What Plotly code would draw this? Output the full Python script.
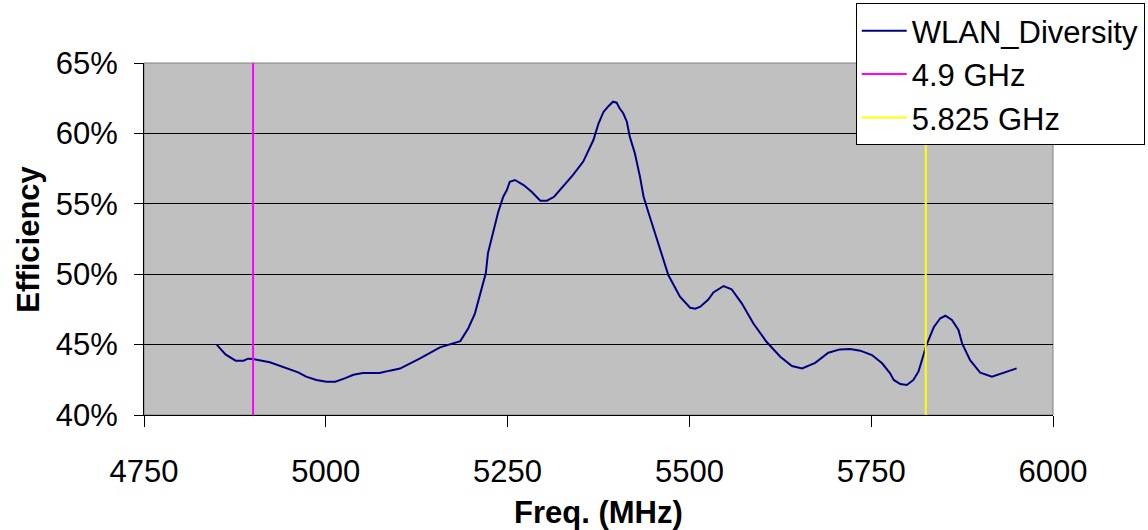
import plotly.graph_objects as go

# WLAN_Diversity efficiency (%)
freq = [4850, 4862, 4876, 4887, 4893, 4900, 4923, 4941, 4962, 4973, 4987, 5001, 5013,
        5026, 5038, 5051, 5074, 5088, 5102, 5129, 5157, 5185, 5196, 5205, 5214, 5220,
        5223, 5230, 5237, 5244, 5249, 5253, 5260, 5272, 5283, 5295, 5304, 5314, 5327,
        5340, 5354, 5368, 5375, 5382, 5389, 5395, 5400, 5404, 5409, 5414, 5418, 5425,
        5432, 5437, 5444, 5453, 5462, 5471, 5487, 5501, 5508, 5515, 5526, 5533, 5547,
        5558, 5572, 5588, 5606, 5625, 5641, 5655, 5673, 5691, 5707, 5721, 5735, 5751,
        5765, 5776, 5781, 5790, 5799, 5808, 5815, 5821, 5826, 5836, 5845, 5852, 5861,
        5870, 5875, 5886, 5900, 5916, 5932, 5950]
eff = [45.0, 44.3, 43.86, 43.86, 44.0, 43.98, 43.74, 43.39, 43.03, 42.72, 42.49, 42.37, 42.37,
       42.6, 42.86, 42.98, 42.98, 43.15, 43.3, 44.0, 44.8, 45.25, 46.16, 47.2, 48.9, 50.06,
       51.5, 53.0, 54.4, 55.5, 55.98, 56.57, 56.69, 56.33, 55.86, 55.22, 55.22, 55.5, 56.26,
       57.05, 58.0, 59.53, 60.7, 61.54, 61.95, 62.25, 62.18, 61.78, 61.43, 60.83, 59.77, 58.59,
       56.93, 55.5, 54.33, 52.9, 51.48, 49.94, 48.4, 47.62, 47.55, 47.69, 48.2, 48.7, 49.16,
       48.93, 47.93, 46.5, 45.2, 44.14, 43.48, 43.3, 43.7, 44.42, 44.66, 44.69, 44.57, 44.26,
       43.67, 42.96, 42.49, 42.2, 42.13, 42.49, 43.08, 44.14, 44.97, 46.23, 46.87, 47.05, 46.75,
       46.04, 45.09, 43.9, 43.0, 42.72, 43.0, 43.31]

# band markers
band_lo_x = [4900, 4900]
band_hi_x = [5825, 5825]
band_y = [40, 65]

x_ticks = [4750, 5000, 5250, 5500, 5750, 6000]
y_ticks = [40, 45, 50, 55, 60, 65]
y_labels = [f"{v}%" for v in y_ticks]

font_name = "Liberation Sans, Arial, sans-serif"

fig = go.Figure()
fig.add_trace(go.Scatter(x=freq, y=eff, mode="lines", name="WLAN_Diversity",
                         line=dict(color="#000080", width=2)))
fig.add_trace(go.Scatter(x=band_lo_x, y=band_y, mode="lines", name="4.9 GHz",
                         line=dict(color="#FF00FF", width=2)))
fig.add_trace(go.Scatter(x=band_hi_x, y=band_y, mode="lines", name="5.825 GHz",
                         line=dict(color="#FFFF00", width=2)))

# plot area frame (grey top/right edge)
fig.add_shape(type="rect", xref="paper", yref="paper", x0=0, x1=1, y0=0, y1=1,
              line=dict(color="#808080", width=1), layer="below")

# axis titles
fig.add_annotation(text="<b>Freq. (MHz)</b>", xref="paper", yref="paper",
                   x=0.5, y=-0.278, xanchor="center", yanchor="middle",
                   showarrow=False, font=dict(size=31))
fig.add_annotation(text="<b>Efficiency</b>", xref="paper", yref="paper",
                   x=-0.128, y=0.5, xanchor="center", yanchor="middle",
                   textangle=-90, showarrow=False, font=dict(size=31))

fig.update_layout(
    width=1148, height=530,
    margin=dict(l=144, r=95, t=63, b=115, autoexpand=False),
    paper_bgcolor="white", plot_bgcolor="#C0C0C0",
    font=dict(family=font_name, size=31, color="black"),
    showlegend=True,
    legend=dict(x=0.783, y=1.17, xanchor="left", yanchor="top",
                bgcolor="white", bordercolor="black", borderwidth=1,
                font=dict(size=31), tracegroupgap=0, itemwidth=45),
    xaxis=dict(range=[4750, 6000], tickvals=x_ticks, showgrid=False, zeroline=False,
               showline=True, linecolor="black", linewidth=1, automargin=False,
               ticks="outside", ticklen=11, tickcolor="black", ticklabelstandoff=18),
    yaxis=dict(range=[40, 65], tickvals=y_ticks, ticktext=y_labels, showgrid=True,
               gridcolor="black", gridwidth=1, zeroline=False,
               showline=True, linecolor="black", linewidth=1, automargin=False,
               ticks="outside", ticklen=9, tickcolor="black", ticklabelstandoff=10),
)

# page body margin would shift the 1148x530 figure, so drop it
fig.write_html("out.html", config={"displayModeBar": False},
               post_script="document.body.style.margin='0';")
